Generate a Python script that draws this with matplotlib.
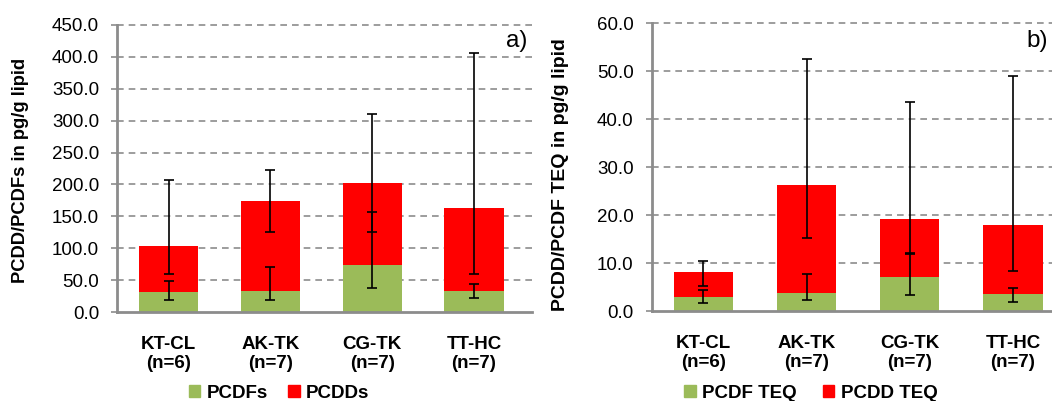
import matplotlib
matplotlib.use("Agg")
import matplotlib.pyplot as plt
import numpy as np
from matplotlib.patches import Patch

plt.rcParams['font.family'] = ['Liberation Sans', 'DejaVu Sans']

categories = ["KT-CL\n(n=6)", "AK-TK\n(n=7)", "CG-TK\n(n=7)", "TT-HC\n(n=7)"]

# Panel a: concentrations (pg/g lipid)
pcdf = [32, 34, 74, 34]
pcdd = [71, 140, 128.5, 129]
pcdf_err_low = [20, 20, 37.5, 22]
pcdf_err_high = [49, 71.5, 157, 44]
pcdd_err_low = [60, 125.5, 125.5, 60]
pcdd_err_high = [206.5, 222, 310.5, 405]
yticks_a = [0, 50, 100, 150, 200, 250, 300, 350, 400, 450]

# Panel b: TEQ (pg/g lipid)
pcdf_teq = [3.0, 3.8, 7.2, 3.7]
pcdd_teq = [5.2, 22.5, 12.0, 14.3]
pcdf_teq_err_low = [1.7, 2.35, 3.5, 2.0]
pcdf_teq_err_high = [4.4, 7.7, 12.1, 4.8]
pcdd_teq_err_low = [5.3, 15.2, 11.9, 8.3]
pcdd_teq_err_high = [10.4, 52.6, 43.7, 49.0]
yticks_b = [0, 10, 20, 30, 40, 50, 60]

GREEN = "#9BBB59"
RED = "#FF0000"
GRAY = "#8C8C8C"

W, H = 1052, 401
fig = plt.figure(figsize=(W/100, H/100), dpi=100)

A = dict(l=117.3, r=532, b=312.3, t=24.7)
B = dict(l=651.7, r=1064.6, b=311.3, t=23.3)


def make_axes(g):
    return fig.add_axes([g['l']/W, (H-g['b'])/H, (g['r']-g['l'])/W, (g['b']-g['t'])/H])


ax_a = make_axes(A)
ax_b = make_axes(B)


def panel(ax, g, bottom, top, bl, bh, tl, th, yticks, ylabel, ylabel_size, tag, tag_pos,
          ylabel_xy, xlim, width):
    x = np.arange(len(categories))
    bottom = np.array(bottom, float)
    top = np.array(top, float)
    total = bottom + top
    ax.bar(x, bottom, width, color=GREEN, zorder=2)
    ax.bar(x, top, width, bottom=bottom, color=RED, zorder=2)
    ax.errorbar(x, bottom, yerr=[bottom - np.array(bl), np.array(bh) - bottom],
                fmt='none', ecolor='black', elinewidth=1.2, capsize=3.7, capthick=1.2, zorder=3)
    ax.errorbar(x, total, yerr=[total - np.array(tl), np.array(th) - total],
                fmt='none', ecolor='black', elinewidth=1.2, capsize=3.7, capthick=1.2, zorder=3)
    ax.set_xlim(*xlim)
    ax.set_ylim(yticks[0], yticks[-1])
    ax.set_yticks(yticks)
    ax.set_yticklabels([f"{v:.1f}" for v in yticks], fontsize=13.5)
    ax.set_xticks(x)
    ax.set_xticklabels(categories, fontsize=13.5, fontweight='bold', linespacing=1.15)
    ax.tick_params(axis='x', length=0, pad=17)
    ax.tick_params(axis='y', length=4, width=1.2, color=GRAY, pad=9)
    for s in ['top', 'right']:
        ax.spines[s].set_visible(False)
    for s in ['left', 'bottom']:
        ax.spines[s].set_color(GRAY)
        ax.spines[s].set_linewidth(2)
    ax.set_axisbelow(True)
    for v in yticks[1:]:
        ax.axhline(v, color=GRAY, lw=1.2, ls=(0, (4, 3)), zorder=1, clip_on=False)
    ax.set_ylabel(ylabel, fontsize=ylabel_size, fontweight='bold')
    ax.yaxis.set_label_coords((ylabel_xy[0] - g['l'])/(g['r'] - g['l']),
                              (g['b'] - ylabel_xy[1])/(g['b'] - g['t']))
    ax.text(tag_pos[0], tag_pos[1], tag, transform=ax.transAxes, ha='right', va='center', fontsize=17.5)


panel(ax_a, A, pcdf, pcdd, pcdf_err_low, pcdf_err_high, pcdd_err_low, pcdd_err_high,
      yticks_a, "PCDD/PCDFs in pg/g lipid", 13.2, "a)", (0.99, 0.943), (29, 170),
      (-0.505, 3.57), 0.58)
panel(ax_b, B, pcdf_teq, pcdd_teq, pcdf_teq_err_low, pcdf_teq_err_high,
      pcdd_teq_err_low, pcdd_teq_err_high,
      yticks_b, "PCDD/PCDF TEQ in pg/g lipid", 14, "b)", (0.96, 0.938), (569, 175),
      (-0.5, 3.5), 0.576)

handles_a = [Patch(color=GREEN, label="PCDFs"), Patch(color=RED, label="PCDDs")]
handles_b = [Patch(color=GREEN, label="PCDF TEQ"), Patch(color=RED, label="PCDD TEQ")]
leg_kw = dict(ncol=2, frameon=False, prop={'weight': 'bold', 'size': 13.5},
              handlelength=0.6, handleheight=0.6, handletextpad=0.35,
              loc='center')
fig.legend(handles=handles_a, bbox_to_anchor=(279/W, 1-393/H), columnspacing=1.1, **leg_kw)
fig.legend(handles=handles_b, bbox_to_anchor=(811/W, 1-393/H), columnspacing=1.4, **leg_kw)

fig.savefig("out.png", dpi=100)
